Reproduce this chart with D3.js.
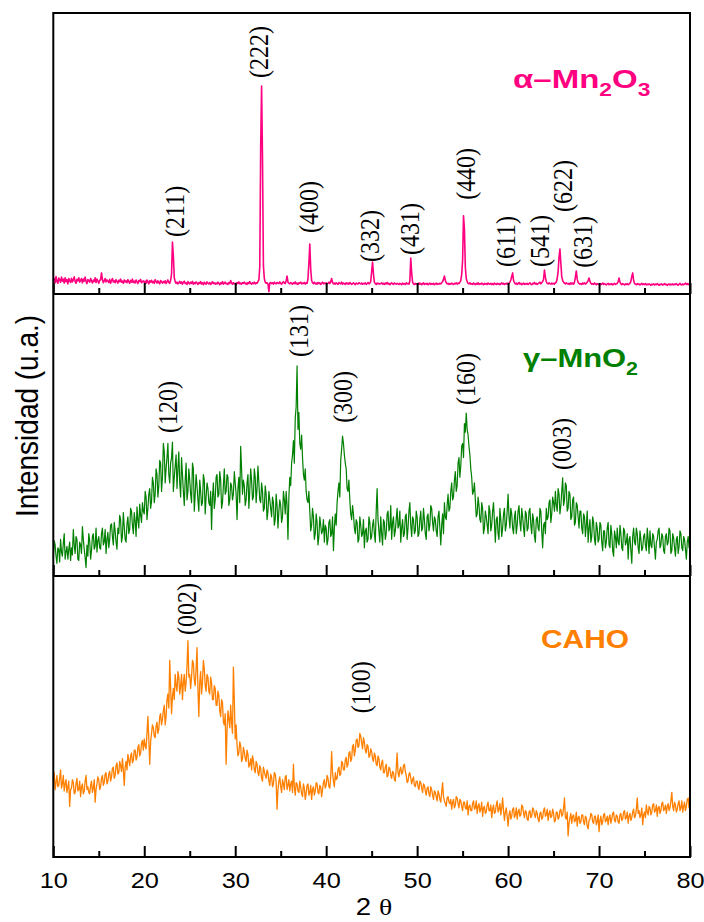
<!DOCTYPE html>
<html>
<head>
<meta charset="utf-8">
<script src="https://cdn.jsdelivr.net/npm/d3@7/dist/d3.min.js"></script>
<style>
  body { margin: 0; background: #fff; }
  text { font-family: "Liberation Sans", Arial, sans-serif; }
</style>
</head>
<body>
<script>
// 2 theta axis
var majorTicks = [10, 20, 30, 40, 50, 60, 70, 80];
var minorTicks = [15, 25, 35, 45, 55, 65, 75];

// alpha-Mn2O3, 10..80 deg, step 0.1 (one row = 2 deg)
var mn2o3Start = 10, mn2o3Step = 0.1;
var mn2o3 = [
  48,55,40,62,45,38,57,50,42,60,46,53,39,58,44,51,36,55,47,41,
  56,43,50,61,45,38,52,47,58,42,49,55,40,53,46,60,44,37,51,48,
  42,55,47,39,50,44,58,41,53,46,38,49,50,75,52,40,47,55,43,50,
  46,41,52,38,48,55,43,47,40,51,45,39,49,44,53,42,46,38,50,43,
  47,40,51,44,38,49,42,53,41,46,39,50,43,37,48,45,52,40,44,47,
  41,46,38,50,43,36,47,42,49,40,45,38,51,44,39,47,41,36,48,43,
  39,45,40,47,37,43,50,41,38,48,72,185,135,58,44,38,42,36,40,45,
  38,43,35,41,46,37,40,34,44,39,36,42,38,45,35,40,37,43,39,34,
  41,37,44,36,40,33,42,38,35,43,39,36,41,34,38,44,37,40,35,39,
  36,42,38,33,40,37,44,35,39,42,36,38,34,41,37,48,39,35,40,36,
  38,34,41,37,43,36,39,35,40,38,42,36,39,34,41,37,44,38,35,40,
  37,42,36,40,38,44,50,95,520,740,480,100,55,42,38,40,36,8,39,41,
  37,40,35,42,38,36,41,39,37,43,38,35,40,44,39,37,46,64,42,38,
  36,41,38,35,40,37,43,36,39,34,40,38,42,36,39,37,41,35,40,38,
  55,110,178,90,48,40,37,42,36,39,35,41,37,40,34,38,42,36,39,37,
  40,36,38,42,37,44,55,41,36,39,35,40,37,34,41,38,36,42,35,39,
  37,34,40,36,39,35,41,38,34,37,40,36,33,39,37,35,40,38,36,39,
  35,38,36,40,34,37,41,36,39,45,80,114,70,42,37,34,39,36,38,35,
  37,40,35,38,34,39,36,41,35,38,33,37,40,36,34,39,37,35,38,36,
  34,38,36,33,39,35,37,34,40,36,38,35,45,128,75,42,36,34,38,35,
  37,34,39,35,38,33,36,40,34,37,35,38,33,36,39,34,37,35,38,33,
  36,39,34,37,35,38,36,40,44,52,64,48,40,36,38,34,37,35,39,36,
  34,38,36,40,35,39,37,42,48,70,120,278,230,95,55,44,38,36,40,35,
  37,34,39,36,33,38,35,40,34,37,35,39,36,33,38,35,37,34,39,36,
  35,38,34,37,33,39,36,34,38,35,37,33,36,40,35,38,34,37,36,39,
  35,38,42,50,62,75,48,40,36,39,34,37,41,35,38,33,36,39,34,37,
  35,38,34,37,40,35,33,38,36,41,35,38,34,37,39,42,36,40,45,52,
  85,60,44,38,36,40,37,35,39,36,38,35,40,42,55,80,130,160,110,62,
  48,42,39,36,40,37,35,38,34,40,36,39,35,42,60,82,52,41,38,35,
  37,34,39,36,40,35,38,42,48,57,45,38,35,37,34,39,36,33,37,35,
  34,37,33,36,39,34,37,35,32,36,38,33,36,34,37,32,35,38,34,36,
  38,44,57,42,36,33,37,35,32,36,34,37,33,35,38,45,62,75,48,38,
  35,33,37,34,36,32,35,38,33,36,34,37,32,35,33,36,34,31,35,33,
  36,32,35,33,37,34,31,35,33,36,32,34,37,33,35,31,34,36,32,35,
  33,36,32,35,34,37,33,31,35,38,34,32,36,33,35,39,34,37,33,36,
  35
];

// gamma-MnO2, 10..80 deg, step 0.1
var mno2Start = 10, mno2Step = 0.1;
var mno2 = [
  60,125,110,70,45,100,95,50,130,85,70,115,150,60,85,105,60,95,120,55,
  100,75,165,110,80,140,130,60,55,120,110,80,175,130,95,65,30,110,70,150,
  125,60,90,140,150,95,105,170,85,125,140,100,95,150,170,110,120,165,80,130,
  155,100,130,180,185,140,110,190,160,120,95,170,150,215,200,120,140,225,175,130,
  120,185,210,150,165,240,230,180,150,225,195,140,245,200,170,255,215,190,260,230,
  220,300,280,200,240,290,310,240,265,350,330,260,290,380,360,280,320,410,400,300,
  350,470,440,330,380,420,470,360,330,400,420,475,300,350,390,430,310,380,440,330,
  280,420,360,300,250,340,400,270,300,380,340,290,260,400,380,230,290,360,320,270,
  230,340,300,250,260,360,340,220,280,330,310,260,250,300,165,280,330,240,270,350,
  360,280,290,370,340,240,260,320,380,290,300,360,350,250,270,330,320,270,290,370,
  330,290,200,310,350,260,460,380,290,340,320,250,270,330,360,240,300,380,340,270,
  280,380,350,260,310,390,330,270,260,330,300,230,240,320,290,200,230,300,270,240,
  210,280,260,180,200,290,250,170,230,270,250,190,210,300,270,220,300,250,130,280,
  350,320,400,430,480,400,560,600,745,520,580,470,450,500,420,360,340,380,300,270,
  260,300,230,160,180,240,210,130,150,220,190,110,140,210,180,150,160,200,120,180,
  170,110,130,190,200,140,150,210,90,170,220,180,260,300,330,280,410,450,496,470,
  430,400,380,310,300,340,270,220,200,250,220,170,150,200,190,120,130,210,180,140,
  150,200,100,160,170,120,130,210,190,130,140,180,200,150,120,230,310,200,160,120,
  210,150,110,200,190,130,150,220,230,160,170,250,130,190,210,140,160,200,240,170,
  180,230,120,170,200,140,150,210,220,130,170,230,260,180,140,210,200,150,160,230,
  210,140,150,200,230,160,170,240,200,150,130,210,220,160,180,250,240,190,160,210,
  200,160,140,210,230,170,110,180,220,150,260,210,200,250,290,230,240,300,330,270,
  280,340,370,300,320,400,420,350,390,460,470,420,540,510,578,520,500,460,430,380,
  350,290,300,330,270,210,220,280,250,200,190,260,240,150,170,230,210,180,150,250,
  230,160,180,230,260,190,120,200,210,150,130,240,200,140,170,220,240,160,180,230,
  290,210,170,240,220,170,150,210,230,150,180,230,250,190,160,240,210,170,140,230,
  220,160,170,230,240,180,150,220,200,140,120,200,210,170,160,240,230,160,100,180,
  190,150,240,200,210,260,270,190,220,280,260,230,300,250,230,310,290,220,250,300,
  348,250,270,330,320,230,240,300,290,200,210,270,280,180,190,260,250,210,170,230,
  230,170,150,220,210,140,180,230,120,170,200,120,140,210,190,130,110,190,170,120,
  130,190,180,120,90,160,160,100,120,170,190,110,100,180,150,90,70,160,140,100,
  170,120,110,180,150,100,90,170,160,110,120,150,60,130,140,90,45,140,170,120,
  110,170,150,100,80,160,130,90,100,140,150,110,90,170,130,80,160,110,100,150,
  140,100,60,120,130,160,170,100,110,150,140,90,80,140,150,110,120,170,160,80,
  90,150,135,100,70,130,140,80,105,160,150,100,90,140,130,95,60,120,140,100,
  110
];

// CAHO, 10..80 deg, step 0.1
var cahoStart = 10, cahoStep = 0.1;
var caho = [
  270,300,240,265,290,250,255,280,310,245,260,290,235,260,275,230,250,270,180,240,
  245,275,265,225,230,260,280,235,240,270,215,250,260,225,235,270,290,240,250,230,
  225,255,270,230,245,275,195,240,260,285,275,240,250,280,290,255,265,295,300,260,
  270,295,305,270,285,315,320,280,290,325,335,295,300,340,325,305,350,310,255,320,
  340,310,365,345,325,360,370,335,345,380,380,345,355,390,400,360,370,405,415,380,
  420,395,385,440,500,420,330,410,440,470,460,430,425,465,480,440,455,500,510,470,
  490,520,540,470,500,560,580,530,700,600,510,570,600,560,650,610,590,660,640,580,
  610,650,560,620,650,590,620,680,770,640,650,600,640,700,690,630,610,670,745,600,
  500,620,660,580,620,700,670,610,590,650,640,590,580,640,620,560,560,610,600,540,
  540,590,575,520,500,560,550,480,470,510,330,450,520,490,460,540,480,440,676,560,
  420,470,400,360,370,410,395,340,350,390,375,350,340,380,365,320,330,350,310,360,
  345,310,300,340,330,300,290,325,315,280,270,320,305,290,280,310,300,270,255,295,
  285,250,260,300,295,265,170,240,270,285,250,230,275,260,240,285,290,240,255,275,
  235,260,270,230,330,250,220,265,260,235,230,270,250,225,215,260,245,205,225,255,
  260,220,230,255,205,240,250,220,235,265,260,230,225,255,250,215,240,265,275,245,
  255,290,280,250,245,285,375,300,270,250,300,275,280,310,320,290,295,340,335,310,
  310,345,355,320,330,370,375,340,350,395,400,360,380,415,420,390,395,440,430,405,
  385,425,410,380,370,400,395,355,360,385,375,350,340,370,360,330,325,360,350,320,
  310,335,345,300,300,320,330,285,290,320,315,290,280,305,300,275,270,315,370,300,
  285,310,320,295,300,325,330,305,290,265,270,295,300,280,260,275,285,255,250,270,
  270,250,240,270,265,245,230,260,255,235,220,245,250,225,215,250,240,220,205,235,
  230,215,200,235,225,205,195,230,265,215,200,190,180,210,215,195,190,205,170,195,
  205,175,185,215,210,190,175,205,200,180,165,195,195,175,170,200,150,180,185,165,
  165,190,200,170,175,200,155,180,190,160,170,195,145,175,180,155,160,185,195,165,
  165,185,140,170,185,155,160,185,200,160,170,190,150,175,210,165,130,160,175,145,
  110,150,165,135,145,170,175,140,150,175,135,160,170,145,150,185,180,155,140,165,
  160,135,130,160,165,140,145,175,170,150,140,165,155,135,125,155,160,135,140,165,
  175,145,150,170,130,155,165,140,145,170,155,125,130,160,160,135,140,165,170,145,
  150,175,210,140,135,160,75,120,140,155,120,145,150,125,130,160,110,140,145,120,
  125,150,150,125,115,145,140,110,100,130,135,155,150,125,120,145,145,115,125,150,
  90,130,145,115,125,150,155,125,130,145,115,140,150,120,135,155,160,130,125,150,
  145,125,120,150,155,130,135,160,165,135,140,160,120,145,155,130,140,160,170,140,
  145,170,210,155,165,140,150,175,115,150,160,140,185,160,150,180,175,150,160,185,
  190,160,165,185,145,175,180,155,165,190,195,165,170,185,155,180,190,165,175,200,
  230,180,165,195,185,160,170,190,200,165,175,200,160,180,195,165,180,205,210,175,
  185
];

// peak indexations: label, 2 theta, intensity where the label starts
var mn2o3Hkl = ["(211)", "(222)", "(400)", "(332)", "(431)", "(440)", "(611)", "(541)", "(622)", "(631)"];
var mn2o3HklAt = [23.6, 32.9, 38.3, 45.0, 49.4, 55.6, 60.0, 63.7, 66.3, 68.45];
var mn2o3HklLevel = [203, 769, 217, 114, 139, 335, 96, 96, 292, 93];

var mno2Hkl = ["(120)", "(131)", "(300)", "(160)", "(003)"];
var mno2HklAt = [22.85, 37.2, 42.05, 55.6, 66.15];
var mno2HklLevel = [507, 777, 543, 606, 376];

var cahoHkl = ["(002)", "(100)"];
var cahoHklAt = [24.9, 44.1];
var cahoHklLevel = [790, 512];

var width = 704, height = 922;
var left = 53.3, right = 690;
var serif = "'Liberation Serif', 'Times New Roman', Times, serif";
var panels = [
  { top: 13,  bottom: 294, color: "#ff0080", values: mn2o3, start: mn2o3Start, step: mn2o3Step, width: 1.6,
    hkl: mn2o3Hkl, at: mn2o3HklAt, level: mn2o3HklLevel,
    name: [["α–Mn"], ["2", 1], ["O"], ["3", 1]], nx: 513, ny: 88, ns: 1.27 },
  { top: 294, bottom: 576, color: "#008000", values: mno2, start: mno2Start, step: mno2Step, width: 1.2,
    hkl: mno2Hkl, at: mno2HklAt, level: mno2HklLevel,
    name: [["γ–MnO"], ["2", 1]], nx: 523, ny: 367, ns: 1.19 },
  { top: 576, bottom: 857, color: "#ff8000", values: caho, start: cahoStart, step: cahoStep, width: 1.3,
    hkl: cahoHkl, at: cahoHklAt, level: cahoHklLevel,
    name: [["CAHO"]], nx: 541, ny: 648, ns: 1.15 }
];

var svg = d3.select("body").append("svg")
    .attr("width", width)
    .attr("height", height);

var x = d3.scaleLinear().domain([10, 80]).range([left, right]);

panels.forEach(function(p, k) {
  var y = d3.scaleLinear().domain([0, 1000]).range([p.bottom, p.top]);
  var g = svg.append("g");

  var line = d3.line()
      .x(function(d, i) { return x(p.start + i * p.step); })
      .y(function(d) { return y(d); });

  g.append("path")
      .datum(p.values)
      .attr("fill", "none")
      .attr("stroke", p.color)
      .attr("stroke-width", p.width)
      .attr("stroke-linejoin", "round")
      .attr("d", line);

  // ticks point inward
  var major = g.append("g")
      .attr("transform", "translate(0," + p.bottom + ")")
      .call(d3.axisBottom(x).tickValues(majorTicks).tickSize(-11).tickPadding(15)
        .tickFormat(k == 2 ? d3.format("d") : ""));
  var minor = g.append("g")
      .attr("transform", "translate(0," + p.bottom + ")")
      .call(d3.axisBottom(x).tickValues(minorTicks).tickSize(-6).tickFormat(""));
  [major, minor].forEach(function(a) {
    a.select(".domain").remove();
    a.selectAll("line").attr("stroke", "#000").attr("stroke-width", 2);
  });
  major.selectAll("text")
      .attr("fill", "#000")
      .style("font-size", "22px")
      .attr("transform", "scale(1.15,1)");

  // hkl labels
  g.selectAll(".hkl")
      .data(p.hkl)
    .enter().append("text")
      .attr("class", "hkl")
      .attr("transform", function(d, i) {
        return "translate(" + x(p.at[i]) + "," + y(p.level[i]) + ") scale(1.15,1) rotate(-90)";
      })
      .attr("dy", "0.25em")
      .attr("fill", "#000")
      .style("font-family", serif)
      .style("font-size", "24px")
      .text(function(d) { return d; });

  // phase name
  var name = g.append("text")
      .attr("transform", "translate(" + p.nx + "," + p.ny + ") scale(" + p.ns + ",1)")
      .attr("fill", p.color)
      .style("font-size", "26px")
      .style("font-weight", "bold");
  var shift = 0;
  p.name.forEach(function(part) {
    var s = part[1] ? 8 : 0;
    name.append("tspan")
        .attr("dy", s - shift)
        .style("font-size", part[1] ? "18px" : "26px")
        .text(part[0]);
    shift = s;
  });
});

// frame
svg.append("rect")
    .attr("x", left).attr("y", 13)
    .attr("width", right - left).attr("height", 857 - 13)
    .attr("fill", "none").attr("stroke", "#000").attr("stroke-width", 2);
[294, 576].forEach(function(v) {
  svg.append("line")
      .attr("x1", left).attr("x2", right)
      .attr("y1", v).attr("y2", v)
      .attr("stroke", "#000").attr("stroke-width", 2);
});

// axis titles
svg.append("text")
    .attr("transform", "translate(38,416) scale(1.15,1) rotate(-90)")
    .attr("text-anchor", "middle")
    .style("font-size", "28px")
    .text("Intensidad (u.a.)");

var xt = svg.append("text")
    .attr("transform", "translate(374,915) scale(1.15,1)")
    .attr("text-anchor", "middle")
    .style("font-size", "24px");
xt.append("tspan").text("2 ");
xt.append("tspan").style("font-family", serif).text("θ");
</script>
</body>
</html>
